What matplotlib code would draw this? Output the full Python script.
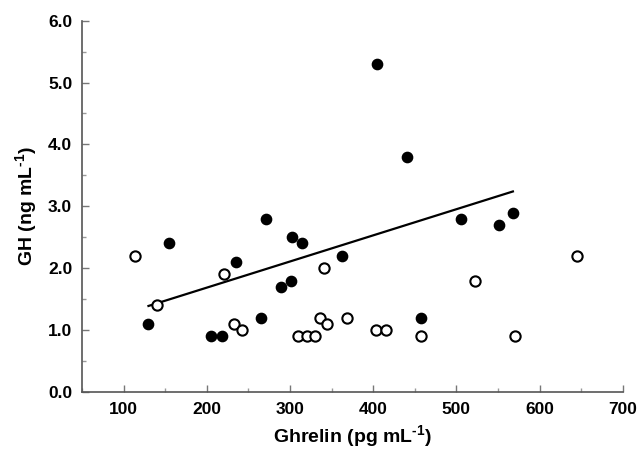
import numpy as np
import matplotlib.pyplot as plt
from matplotlib.ticker import MultipleLocator

plt.rcParams['font.family'] = ['Liberation Sans', 'DejaVu Sans']
plt.rcParams['mathtext.fontset'] = 'custom'
plt.rcParams['mathtext.rm'] = 'Liberation Sans:bold'
plt.rcParams['mathtext.bf'] = 'Liberation Sans:bold'

# filled circles
filled_x = [129, 155, 205, 218, 235, 265, 271, 289, 301, 302, 315, 362,
            405, 441, 458, 506, 551, 568]
filled_y = [1.1, 2.4, 0.9, 0.9, 2.1, 1.2, 2.8, 1.7, 1.8, 2.5, 2.4, 2.2,
            5.3, 3.8, 1.2, 2.8, 2.7, 2.9]

# open circles
open_x = [114, 140, 221, 233, 242, 310, 321, 330, 336, 341, 344, 369,
          403, 415, 457, 523, 571, 645]
open_y = [2.2, 1.4, 1.9, 1.1, 1.0, 0.9, 0.9, 0.9, 1.2, 2.0, 1.1, 1.2,
          1.0, 1.0, 0.9, 1.8, 0.9, 2.2]

# regression line (filled group)
fit_x = [130, 568]
fit_y = [1.39, 3.24]

fig = plt.figure(figsize=(6.4, 4.49), dpi=100)
ax = fig.add_axes([0.128, 0.127, 0.845, 0.827])

ax.plot(fit_x, fit_y, color='black', lw=1.6, zorder=2)
ax.plot(filled_x, filled_y, 'o', ms=7.4, color='black', zorder=3)
ax.plot(open_x, open_y, 'o', ms=7.4, mfc='white', mec='black', mew=1.5, zorder=3)

ax.set_xlim(50, 700)
ax.set_ylim(0, 6)
ax.xaxis.set_minor_locator(MultipleLocator(50))
ax.yaxis.set_minor_locator(MultipleLocator(0.5))
ax.set_xticks([100, 200, 300, 400, 500, 600, 700])
ax.set_yticks([0, 1, 2, 3, 4, 5, 6])
ax.set_yticklabels([f"{v:.1f}" for v in ax.get_yticks()])

for s in ['top', 'right']:
    ax.spines[s].set_visible(False)
for s in ['left', 'bottom']:
    ax.spines[s].set_color('#555555')
    ax.spines[s].set_linewidth(1.2)

ax.tick_params(which='major', direction='in', length=5, width=1, color='#777777',
               labelsize=12.5, pad=7)
ax.tick_params(which='minor', direction='in', length=3, width=1, color='#999999')
for lab in ax.get_xticklabels() + ax.get_yticklabels():
    lab.set_fontweight('bold')

ax.set_xlabel("Ghrelin (pg mL$^{\\text{-}1}$)", fontsize=14, fontweight='bold', labelpad=5)
ax.set_ylabel("GH (ng mL$^{\\text{-}1}$)", fontsize=14, fontweight='bold', labelpad=6)

fig.savefig("out.png", dpi=100)
